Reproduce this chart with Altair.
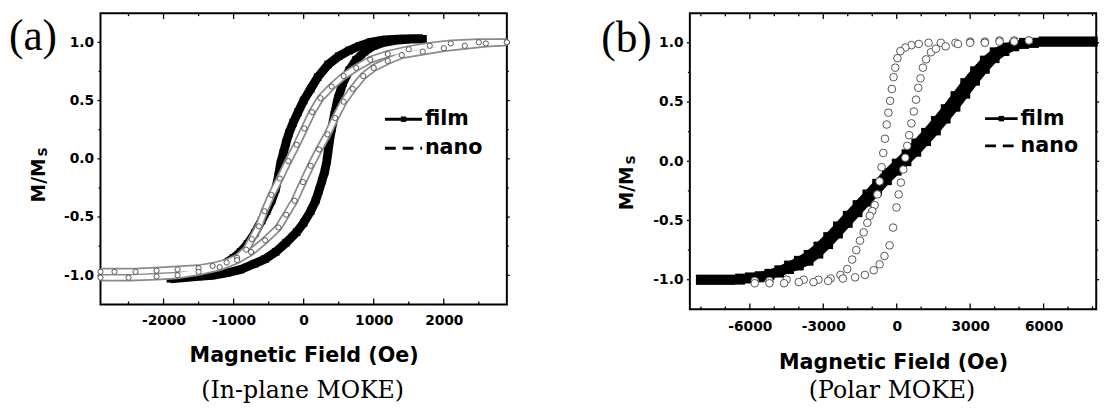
import altair as alt
import pandas as pd

# ---------------- panel (a): In-plane MOKE ----------------
a_film_down_v = [1700, 1400, 1150, 950, 800, 650, 500, 350, 200, 100, 0, -80, -150, -210, -250, -290, -330, -360, -400, -460,
                 -530, -600, -700, -800, -900, -1000, -1150, -1300, -1500, -1700, -1900]
a_film_down_m = [1.03, 1.03, 1.02, 1.0, 0.97, 0.93, 0.88, 0.81, 0.70, 0.60, 0.50, 0.40, 0.31, 0.22, 0.14, 0.05, -0.04, -0.15, -0.26, -0.36,
                 -0.45, -0.53, -0.64, -0.73, -0.80, -0.85, -0.91, -0.94, -0.98, -1.0, -1.02]
a_film_up_v = [-1900, -1700, -1500, -1300, -1100, -900, -700, -550, -400, -250, -100, 0, 100, 170, 220, 260, 300, 330, 350, 370,
               400, 440, 490, 560, 650, 750, 870, 1000, 1150, 1350, 1550, 1700]
a_film_up_m = [-1.03, -1.02, -1.01, -1.0, -0.98, -0.95, -0.9, -0.86, -0.8, -0.72, -0.63, -0.55, -0.45, -0.36, -0.27, -0.19, -0.11, -0.02, 0.07, 0.16,
               0.26, 0.38, 0.52, 0.65, 0.76, 0.85, 0.92, 0.97, 1.0, 1.02, 1.03, 1.03]
a_nano_down_v = [2900, 2500, 2100, 1800, 1500, 1200, 950, 750, 570, 400, 240, 120, 10, -100, -220, -340, -460, -560, -640, -740,
                 -820, -950, -1100, -1300, -1500, -1800, -2100, -2400, -2700, -2900]
a_nano_down_m = [1.0, 1.0, 0.99, 0.97, 0.94, 0.90, 0.85, 0.78, 0.71, 0.62, 0.52, 0.40, 0.26, 0.12, -0.02, -0.17, -0.31, -0.45, -0.58, -0.69,
                 -0.78, -0.85, -0.89, -0.92, -0.94, -0.95, -0.96, -0.97, -0.97, -0.97]
a_nano_up_v = [-2900, -2500, -2100, -1800, -1500, -1200, -950, -750, -550, -360, -250, -130, -10, 100, 220, 340, 450, 570, 700, 850,
               1000, 1200, 1400, 1700, 2000, 2300, 2600, 2900]
a_nano_up_m = [-1.02, -1.02, -1.01, -1.0, -0.97, -0.93, -0.87, -0.80, -0.70, -0.59, -0.48, -0.36, -0.20, -0.06, 0.08, 0.21, 0.35, 0.49, 0.60, 0.71,
               0.78, 0.84, 0.89, 0.92, 0.95, 0.97, 0.99, 1.0]

# ---------------- panel (b): Polar MOKE ----------------
b_film_up_v = [-8000, -7600, -7200, -6800, -6400, -6000, -5600, -5200, -4800, -4400, -4000, -3600, -3200, -2800, -2400, -2000, -1600, -1200, -800, -400,
               0, 400, 800, 1200, 1600, 2000, 2400, 2800, 3200, 3600, 4000, 4400, 4800, 5200, 5600, 6000, 6400, 6800, 7200, 7600, 8000]
b_film_up_m = [-1.0, -1.0, -1.0, -1.0, -1.0, -0.99, -0.98, -0.96, -0.94, -0.91, -0.88, -0.84, -0.78, -0.70, -0.61, -0.52, -0.43, -0.34, -0.25, -0.16,
               -0.08, 0.0, 0.08, 0.17, 0.26, 0.36, 0.46, 0.57, 0.68, 0.78, 0.87, 0.93, 0.97, 0.99, 1.0, 1.01, 1.01, 1.01, 1.01, 1.01, 1.01]
b_film_down_v = [8000, 7600, 7200, 6800, 6400, 6000, 5600, 5200, 4800, 4400, 4000, 3600, 3200, 2800, 2400, 2000, 1600, 1200, 800, 400,
                 0, -400, -800, -1200, -1600, -2000, -2400, -2800, -3200, -3600, -4000, -4400, -4800, -5200, -5600, -6000, -6400, -6800, -7200, -7600, -8000]
b_film_down_m = [1.01, 1.01, 1.01, 1.01, 1.01, 1.01, 1.0, 1.0, 0.98, 0.96, 0.92, 0.85, 0.76, 0.66, 0.55, 0.44, 0.34, 0.24, 0.15, 0.06,
                 -0.02, -0.10, -0.19, -0.28, -0.37, -0.46, -0.55, -0.64, -0.72, -0.79, -0.84, -0.88, -0.92, -0.95, -0.97, -0.98, -0.99, -1.0, -1.0, -1.0, -1.0]
b_nano_down_v = [5400, 4800, 4200, 3600, 3000, 2400, 1800, 1300, 900, 600, 350, 150, 30, -60, -130, -200, -270, -340, -410, -480,
                 -550, -620, -700, -790, -900, -1000, -1100, -1200, -1350, -1500, -1650, -1820, -2020, -2300, -2700, -3200, -3800, -4500, -5200, -5800]
b_nano_down_m = [1.02, 1.02, 1.02, 1.01, 1.01, 1.0, 1.0, 1.0, 0.99, 0.98, 0.96, 0.93, 0.87, 0.79, 0.71, 0.61, 0.51, 0.41, 0.31, 0.19,
                 0.07, -0.05, -0.17, -0.28, -0.37, -0.42, -0.46, -0.52, -0.60, -0.67, -0.75, -0.83, -0.91, -0.96, -0.99, -1.0, -1.0, -1.0, -1.01, -1.01]
b_nano_up_v = [-5800, -5200, -4600, -4000, -3400, -2800, -2200, -1700, -1300, -940, -700, -500, -290, -150, -10, 80, 170, 270, 350, 430,
               510, 600, 700, 790, 880, 970, 1070, 1200, 1400, 1600, 2000, 2500, 3000, 3600, 4200, 4800, 5400]
b_nano_up_m = [-1.03, -1.03, -1.03, -1.02, -1.02, -1.01, -0.99, -0.98, -0.96, -0.92, -0.87, -0.80, -0.71, -0.56, -0.39, -0.28, -0.18, -0.07, 0.03, 0.13,
               0.22, 0.32, 0.42, 0.52, 0.62, 0.70, 0.79, 0.86, 0.92, 0.95, 0.97, 0.99, 1.0, 1.0, 1.01, 1.01, 1.02]

# ---------------- texts and ticks ----------------
x_title = "Magnetic Field (Oe)"
y_title_parts = ["M/M", "S"]
panel_tags = ["(a)", "(b)"]
subtitles = ["(In-plane MOKE)", "(Polar MOKE)"]
series_names = ["film", "nano"]
y_major = [-1.0, -0.5, 0.0, 0.5, 1.0]
y_minor = [-0.75, -0.25, 0.25, 0.75]
a_x_major = [-2000, -1000, 0, 1000, 2000]
a_x_minor = [-2500, -1500, -500, 500, 1500, 2500]
b_x_major = [-6000, -3000, 0, 3000, 6000]
b_x_minor = [-8000, -7000, -5000, -4000, -2000, -1000, 1000, 2000, 4000, 5000, 7000, 8000]

SANS = "DejaVu Sans"
SERIF_TAG = "Liberation Serif"
SERIF_SUB = "DejaVu Serif"


def branch_df(parts):
    frames = []
    for name, vs, ms in parts:
        frames.append(pd.DataFrame({"v": vs, "m": ms, "branch": name, "i": list(range(len(vs)))}))
    return pd.concat(frames, ignore_index=True)


def panel(W, H, xdom, xmaj, xmin, film, nano, tag, sub, leg, lab, style):
    sx = alt.Scale(domain=xdom, nice=False, zero=False)
    sy = alt.Scale(domain=[-1.25, 1.25], nice=False, zero=False)
    X = alt.X("v:Q", scale=sx, axis=alt.Axis(
        values=xmaj, ticks=False, domain=False, grid=False, labelOverlap=False, labelFlush=False,
        labelExpr="datum.value < 0 ? '-' + format(-datum.value, 'd') : format(datum.value, 'd')",
        labelFont=SANS, labelFontWeight="bold", labelFontSize=14, labelColor="black", labelPadding=lab["lp"],
        title=x_title, titleFont=SANS, titleFontWeight="bold", titleFontSize=21, titleColor="black",
        titlePadding=lab["tp"]))
    Y = alt.Y("m:Q", scale=sy, axis=alt.Axis(
        values=y_major, ticks=False, domain=False, grid=False, labelOverlap=False, labelFlush=False,
        labelExpr="datum.value < 0 ? '-' + format(-datum.value, '.1f') : format(datum.value, '.1f')",
        labelFont=SANS, labelFontWeight="bold", labelFontSize=14, labelColor="black", labelPadding=7,
        title=None))

    layers = []
    # frame ticks
    for vals, L in ((xmaj, 6), (xmin, 3)):
        d = pd.DataFrame({"v": vals})
        layers.append(alt.Chart(d).mark_rule(color="black", strokeWidth=1.3).encode(
            x=X, y=alt.value(H), y2=alt.value(H - L)))
        layers.append(alt.Chart(d).mark_rule(color="black", strokeWidth=1.3).encode(
            x=X, y=alt.value(0), y2=alt.value(L)))
    for vals, L in ((y_major, 3), (y_minor, 2)):
        d = pd.DataFrame({"m": vals})
        layers.append(alt.Chart(d).mark_rule(color="black", strokeWidth=1.3).encode(
            y=Y, x=alt.value(0), x2=alt.value(-L)))
        layers.append(alt.Chart(d).mark_rule(color="black", strokeWidth=1.3).encode(
            y=Y, x=alt.value(W), x2=alt.value(W + L)))

    # film: filled squares on a thick black trace
    layers.append(alt.Chart(film).mark_line(color="black", strokeWidth=style["fw"]).encode(
        x=X, y=Y, detail="branch:N", order="i:Q"))
    layers.append(alt.Chart(film).mark_square(color="black", size=style["fs"], opacity=1).encode(x=X, y=Y))
    # nano: open circles
    if style["tube"]:
        layers.append(alt.Chart(nano).mark_line(color="#8a8a8a", strokeWidth=8).encode(
            x=X, y=Y, detail="branch:N", order="i:Q"))
        layers.append(alt.Chart(nano).mark_line(color="white", strokeWidth=4.5).encode(
            x=X, y=Y, detail="branch:N", order="i:Q"))
    layers.append(alt.Chart(nano).mark_point(shape="circle", filled=True, fill="white", stroke="#555",
                                             strokeWidth=1, size=style["ns"], opacity=1).encode(x=X, y=Y))

    # legend
    x1, x2, xt, yf, yn = leg
    layers.append(alt.Chart(pd.DataFrame({"v": [x1], "v2": [x2], "m": [yf]})).mark_rule(
        color="black", strokeWidth=3).encode(x=X, x2="v2:Q", y=Y))
    layers.append(alt.Chart(pd.DataFrame({"v": [(x1 + x2) / 2], "m": [yf]})).mark_square(
        color="black", size=30, opacity=1).encode(x=X, y=Y))
    layers.append(alt.Chart(pd.DataFrame({"v": [x1], "v2": [x2], "m": [yn]})).mark_rule(
        color="black", strokeWidth=3, strokeDash=[11, 7]).encode(x=X, x2="v2:Q", y=Y))
    layers.append(alt.Chart(pd.DataFrame({"v": [xt, xt], "m": [yf, yn], "t": series_names})).mark_text(
        align="left", baseline="middle", font=SANS, fontWeight="bold", fontSize=21, color="black").encode(
        x=X, y=Y, text="t:N"))

    # panel tag, y title, subtitle
    layers.append(alt.Chart(pd.DataFrame({"t": [tag]})).mark_text(
        align="left", baseline="middle", font=SERIF_TAG, fontSize=44, color="black").encode(
        x=alt.value(lab["tagx"]), y=alt.value(lab["tagy"]), text="t:N"))
    layers.append(alt.Chart(pd.DataFrame({"t": [y_title_parts[0]]})).mark_text(
        align="center", baseline="middle", angle=270, font=SANS, fontWeight="bold", fontSize=19, color="black").encode(
        x=alt.value(lab["ytx"]), y=alt.value(lab["yty"]), text="t:N"))
    layers.append(alt.Chart(pd.DataFrame({"t": [y_title_parts[1]]})).mark_text(
        align="center", baseline="middle", angle=270, font=SANS, fontWeight="bold", fontSize=13, color="black").encode(
        x=alt.value(lab["ytx"] + 4), y=alt.value(lab["yty"] - 29), text="t:N"))
    layers.append(alt.Chart(pd.DataFrame({"t": [sub]})).mark_text(
        align="center", baseline="alphabetic", font=SERIF_SUB, fontSize=24, color="black").encode(
        x=alt.value(W / 2 - 1), y=alt.value(lab["suby"]), text="t:N"))

    return alt.layer(*layers).properties(width=W, height=H)


film_a = branch_df([("down", a_film_down_v, a_film_down_m), ("up", a_film_up_v, a_film_up_m)])
nano_a = branch_df([("down", a_nano_down_v, a_nano_down_m), ("up", a_nano_up_v, a_nano_up_m)])
film_b = branch_df([("down", b_film_down_v, b_film_down_m), ("up", b_film_up_v, b_film_up_m)])
nano_b = branch_df([("down", b_nano_down_v, b_nano_down_m), ("up", b_nano_up_v, b_nano_up_m)])

pa = panel(413, 296, [-2900, 2900], a_x_major, a_x_minor, film_a, nano_a, panel_tags[0], subtitles[0],
           (1160, 1690, 1730, 0.34, 0.09),
           {"lp": 9, "tp": 18, "tagx": -93, "tagy": 24, "ytx": -62, "yty": 170, "suby": 391},
           {"fw": 9, "fs": 60, "ns": 28, "tube": True})
pb = panel(413, 301, [-8450, 8150], b_x_major, b_x_minor, film_b, nano_b, panel_tags[1], subtitles[1],
           (3610, 4940, 5060, 0.36, 0.13),
           {"lp": 11, "tp": 18, "tagx": -90, "tagy": 26, "ytx": -64, "yty": 178, "suby": 391},
           {"fw": 8, "fs": 100, "ns": 60, "tube": False})

chart = alt.hconcat(pa, pb, spacing=186, bounds="flush").properties(
    padding={"left": 0, "top": 0, "right": 0, "bottom": 0}
).configure_view(stroke="black", strokeWidth=2)

chart.save("out.html", embed_options={"renderer": "svg", "actions": False})
